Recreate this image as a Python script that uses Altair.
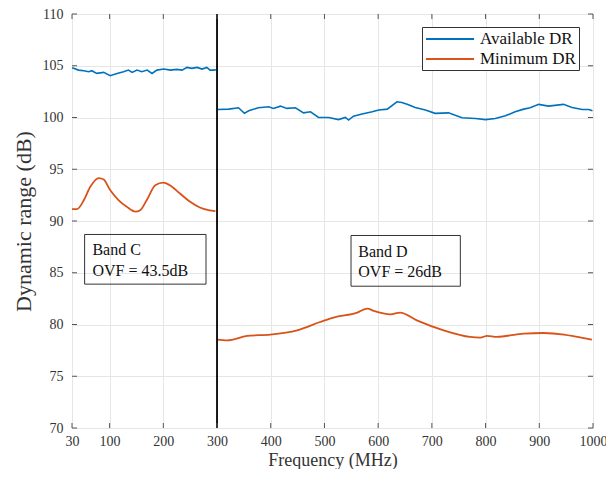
import altair as alt
import pandas as pd

# ---- data ----
c_avail_freq = [30, 33, 42, 52, 61, 67, 76, 89, 101, 114, 126, 135, 142, 151, 160, 170, 179, 188, 201, 213, 225, 235,
                244, 253, 263, 272, 281, 287, 294, 298]
c_avail_val = [104.8, 104.75, 104.58, 104.52, 104.42, 104.52, 104.26, 104.36, 104.04, 104.26, 104.42, 104.58, 104.36,
               104.58, 104.42, 104.58, 104.26, 104.58, 104.68, 104.58, 104.65, 104.58, 104.84, 104.75, 104.84, 104.68,
               104.84, 104.58, 104.58, 104.62]
d_avail_freq = [301, 322, 340, 351, 359, 377, 396, 405, 418, 430, 446, 461, 474, 489, 508, 526, 539, 545, 554, 570, 589,
                601, 617, 635, 644, 654, 669, 688, 706, 731, 756, 781, 800, 818, 837, 855, 871, 883, 899, 917, 945, 961,
                980, 992, 999]
d_avail_val = [100.78, 100.81, 100.94, 100.4, 100.65, 100.94, 101.04, 100.88, 101.1, 100.88, 100.94, 100.45, 100.55,
               100.0, 100.0, 99.8, 100.0, 99.75, 100.13, 100.33, 100.55, 100.72, 100.81, 101.52, 101.45, 101.27,
               100.97, 100.72, 100.4, 100.45, 99.97, 99.91, 99.8, 99.91, 100.16, 100.55, 100.81, 100.94, 101.27,
               101.1, 101.27, 100.97, 100.78, 100.78, 100.65]
c_min_freq = [30, 39, 52, 64, 80, 89, 101, 117, 132, 148, 157, 169, 185, 200, 212, 231, 250, 268, 284, 297]
c_min_val = [91.14, 91.14, 92.0, 93.3, 94.15, 94.0, 93.0, 92.0, 91.37, 90.9, 91.05, 92.0, 93.46, 93.7, 93.46, 92.66,
             91.85, 91.3, 91.05, 90.95]
d_min_freq = [300, 319, 356, 399, 449, 492, 517, 561, 580, 592, 623, 641, 672, 722, 771, 790, 803, 821, 871, 908, 946,
              971, 998]
d_min_val = [78.54, 78.47, 78.9, 79.03, 79.44, 80.24, 80.67, 81.15, 81.54, 81.31, 80.98, 81.15, 80.4, 79.44, 78.8,
             78.73, 78.9, 78.8, 79.12, 79.18, 79.03, 78.8, 78.54]

series_names = ["Available DR", "Minimum DR"]
series_colors = ["#0072BD", "#D95319"]
x_ticks = [30, 100, 200, 300, 400, 500, 600, 700, 800, 900, 1000]
y_ticks = [70, 75, 80, 85, 90, 95, 100, 105, 110]
band_edge = [300]

box_x = [53.5, 549.5]
box_x2 = [279.5, 753]
box_y = [88.7, 88.6]
box_y2 = [83.9, 83.7]
label_x = [68, 563]
label_line1 = ["Band C", "Band D"]
label_line2 = ["OVF = 43.5dB", "OVF = 26dB"]
label_y1 = [87.15, 87.0]
label_y2 = [85.2, 85.05]

W, H = 521, 414
FONT = "Liberation Serif"

rows = []
for f, v in zip(c_avail_freq, c_avail_val):
    rows.append(dict(freq=f, val=v, series="Available DR", band="C"))
for f, v in zip(d_avail_freq, d_avail_val):
    rows.append(dict(freq=f, val=v, series="Available DR", band="D"))
for f, v in zip(c_min_freq, c_min_val):
    rows.append(dict(freq=f, val=v, series="Minimum DR", band="C"))
for f, v in zip(d_min_freq, d_min_val):
    rows.append(dict(freq=f, val=v, series="Minimum DR", band="D"))
df = pd.DataFrame(rows)

xs = alt.Scale(domain=[30, 1000], nice=False, zero=False)
ys = alt.Scale(domain=[70, 110], nice=False, zero=False)

color = alt.Color("series:N", scale=alt.Scale(domain=series_names, range=series_colors),
                  legend=alt.Legend(title=None, orient="none", legendX=350, legendY=13,
                                    symbolType="M-1,0H5", symbolSize=256, symbolStrokeWidth=2,
                                    labelFont=FONT, labelFontSize=17, labelColor="#111",
                                    strokeColor="#333", fillColor="white", padding=3,
                                    rowPadding=3, labelOffset=37))

base = alt.Chart(df)

axis_layer = alt.Chart(pd.DataFrame({"freq": [30], "val": [70]})).mark_point(opacity=0).encode(
    x=alt.X("freq:Q", scale=xs, title="Frequency (MHz)",
            axis=alt.Axis(values=x_ticks, format="d", tickSize=0, domain=False, gridColor="#e6e6e6",
                          labelFont=FONT, labelFontSize=14, labelColor="#333", labelPadding=6,
                          titleFont=FONT, titleFontSize=18, titleFontWeight="normal",
                          titleColor="#333", titleBaseline="alphabetic", titleY=37, labelFlush=False)),
    y=alt.Y("val:Q", scale=ys, title="Dynamic range (dB)",
            axis=alt.Axis(values=y_ticks, format="d", tickSize=0, domain=False, gridColor="#e6e6e6",
                          labelFont=FONT, labelFontSize=14, labelColor="#333", labelPadding=9,
                          titleFont=FONT, titleFontSize=22, titleFontWeight="normal",
                          titleColor="#333", titlePadding=7)),
)

blue = base.transform_filter(alt.datum.series == "Available DR").mark_line(strokeWidth=1.6).encode(
    x=alt.X("freq:Q", scale=xs), y=alt.Y("val:Q", scale=ys), color=color, detail="band:N")
orange = base.transform_filter(alt.datum.series == "Minimum DR").mark_line(
    strokeWidth=1.8, interpolate="monotone").encode(
    x=alt.X("freq:Q", scale=xs), y=alt.Y("val:Q", scale=ys), color=color, detail="band:N")

edge = alt.Chart(pd.DataFrame({"freq": band_edge})).mark_rule(color="black", strokeWidth=1.8).encode(
    x=alt.X("freq:Q", scale=xs), y=alt.value(0), y2=alt.value(H))

xt = pd.DataFrame({"freq": x_ticks})
yt = pd.DataFrame({"val": y_ticks})
tick_style = dict(color="#555", strokeWidth=1)
xt_bottom = alt.Chart(xt).mark_rule(**tick_style).encode(
    x=alt.X("freq:Q", scale=xs), y=alt.value(H), y2=alt.value(H - 5))
xt_top = alt.Chart(xt).mark_rule(**tick_style).encode(
    x=alt.X("freq:Q", scale=xs), y=alt.value(0), y2=alt.value(5))
yt_left = alt.Chart(yt).mark_rule(**tick_style).encode(
    y=alt.Y("val:Q", scale=ys), x=alt.value(0), x2=alt.value(5))
yt_right = alt.Chart(yt).mark_rule(**tick_style).encode(
    y=alt.Y("val:Q", scale=ys), x=alt.value(W), x2=alt.value(W - 5))

boxes_df = pd.DataFrame({"x": box_x, "x2": box_x2, "y": box_y, "y2": box_y2})
boxes = alt.Chart(boxes_df).mark_rect(fill=None, stroke="#333", strokeWidth=1).encode(
    x=alt.X("x:Q", scale=xs), x2="x2:Q", y=alt.Y("y:Q", scale=ys), y2="y2:Q")

lab_df = pd.DataFrame({"x": label_x * 2, "y": label_y1 + label_y2, "t": label_line1 + label_line2})
labels = alt.Chart(lab_df).mark_text(align="left", baseline="middle", font=FONT, fontSize=16,
                                     color="#111").encode(
    x=alt.X("x:Q", scale=xs), y=alt.Y("y:Q", scale=ys), text="t:N")

chart = alt.layer(axis_layer, blue, orange, edge, xt_bottom, xt_top, yt_left, yt_right, boxes, labels).properties(
    width=W, height=H,
    autosize=alt.AutoSizeParams(type="none"),
    padding={"left": 64, "top": 6, "right": 13, "bottom": 41},
).configure_view(stroke="#666", strokeWidth=1).configure(background="white")

chart.save("out.html", embed_options={"renderer": "svg", "actions": False})
